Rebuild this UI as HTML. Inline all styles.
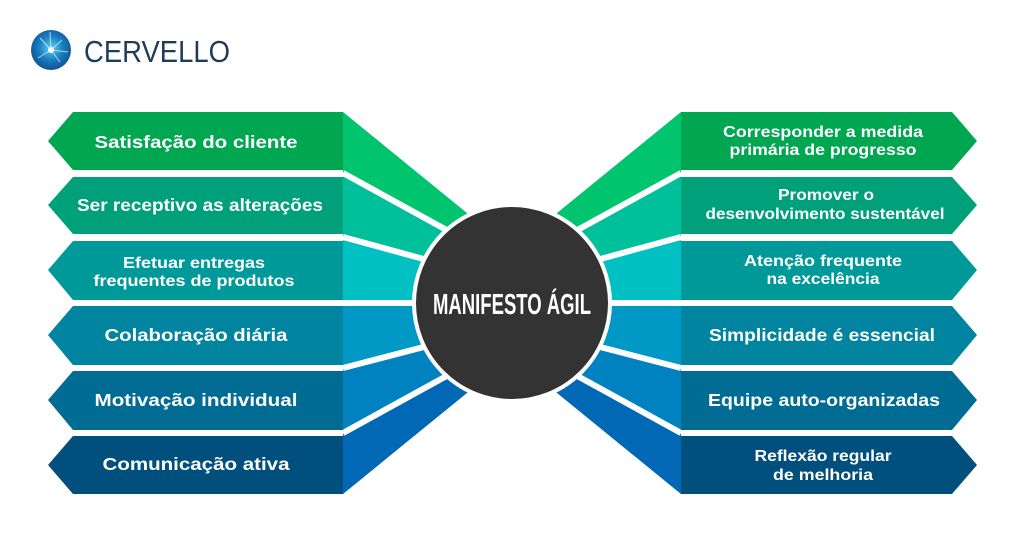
<!DOCTYPE html>
<html><head><meta charset="utf-8"><style>
html,body{margin:0;padding:0;background:#fff;}
svg{display:block;}
text{font-family:"Liberation Sans",sans-serif;}
</style></head><body>
<svg width="1024" height="548" viewBox="0 0 1024 548" xmlns="http://www.w3.org/2000/svg">
<defs>
<radialGradient id="lg" cx="0.5" cy="0.45" r="0.6"><stop offset="0" stop-color="#5fd0f0"/><stop offset="0.5" stop-color="#1a7fc0"/><stop offset="1" stop-color="#0d4a8a"/></radialGradient>
</defs>
<circle cx="51" cy="50" r="20" fill="url(#lg)"/>
<g stroke="#cdefff" stroke-width="1" fill="none" opacity="0.8">
<path d="M51 50 L40 38 M51 50 L62 40 M51 50 L38 58 M51 50 L60 62 M51 50 L50 32 M51 50 L68 52"/>
</g>
<circle cx="51" cy="50" r="3" fill="#fff"/>
<text x="84" y="62" font-size="31" fill="#1d3b5a" textLength="146" lengthAdjust="spacingAndGlyphs">CERVELLO</text>

<polygon points="343,112 343,173 480,248.4 480,223.6" fill="#00c46e"/>
<polygon points="343,173 343,237 480,274.4 480,248.4" fill="#00c09c"/>
<polygon points="343,237 343,303 480,303 480,274.4" fill="#00c0c4"/>
<polygon points="343,303 343,368 480,332.4 480,303" fill="#0099c6"/>
<polygon points="343,368 343,433 480,357.6 480,332.4" fill="#0082c0"/>
<polygon points="343,433 343,494 480,382.4 480,357.6" fill="#0068b4"/>
<polygon points="681,112 681,173 544,248.4 544,223.6" fill="#00c46e"/>
<polygon points="681,173 681,237 544,274.4 544,248.4" fill="#00c09c"/>
<polygon points="681,237 681,303 544,303 544,274.4" fill="#00c0c4"/>
<polygon points="681,303 681,368 544,332.4 544,303" fill="#0099c6"/>
<polygon points="681,368 681,433 544,357.6 544,332.4" fill="#0082c0"/>
<polygon points="681,433 681,494 544,382.4 544,357.6" fill="#0068b4"/>
<g stroke="#fff" stroke-width="6">
<line x1="343" y1="173" x2="480" y2="248.4"/>
<line x1="343" y1="237" x2="480" y2="274.4"/>
<line x1="343" y1="303" x2="480" y2="303"/>
<line x1="343" y1="368" x2="480" y2="332.4"/>
<line x1="343" y1="433" x2="480" y2="357.6"/>
<line x1="681" y1="173" x2="544" y2="248.4"/>
<line x1="681" y1="237" x2="544" y2="274.4"/>
<line x1="681" y1="303" x2="544" y2="303"/>
<line x1="681" y1="368" x2="544" y2="332.4"/>
<line x1="681" y1="433" x2="544" y2="357.6"/>
</g>

<polygon points="73,112 343,112 343,170 73,170 48,141" fill="#00a650"/>
<polygon points="73,177 343,177 343,234 73,234 48,205" fill="#00a07a"/>
<polygon points="73,241 343,241 343,300 73,300 48,270" fill="#00999a"/>
<polygon points="73,306 343,306 343,365 73,365 48,335" fill="#00849f"/>
<polygon points="73,371 343,371 343,430 73,430 48,400" fill="#006b93"/>
<polygon points="73,436 343,436 343,494 73,494 48,465" fill="#004f7c"/>
<polygon points="681,112 952,112 977,141 952,170 681,170" fill="#00a650"/>
<polygon points="681,177 952,177 977,205 952,234 681,234" fill="#00a07a"/>
<polygon points="681,241 952,241 977,270 952,300 681,300" fill="#00999a"/>
<polygon points="681,306 952,306 977,335 952,365 681,365" fill="#00849f"/>
<polygon points="681,371 952,371 977,400 952,430 681,430" fill="#006b93"/>
<polygon points="681,436 952,436 977,465 952,494 681,494" fill="#004f7c"/>

<circle cx="512" cy="303" r="98" fill="#333333" stroke="#fff" stroke-width="4"/>
<text x="512" y="314" font-size="29" font-weight="bold" fill="#fff" text-anchor="middle" textLength="158" lengthAdjust="spacingAndGlyphs">MANIFESTO ÁGIL</text>

<g fill="#fff" font-size="17.5" font-weight="bold" text-anchor="middle" lengthAdjust="spacingAndGlyphs">
<text x="196" y="148" textLength="203" lengthAdjust="spacingAndGlyphs">Satisfação do cliente</text>
<text x="200" y="211" textLength="246" lengthAdjust="spacingAndGlyphs">Ser receptivo as alterações</text>
<text x="194" y="268" font-size="16" textLength="142" lengthAdjust="spacingAndGlyphs">Efetuar entregas</text>
<text x="194" y="286" font-size="16" textLength="201" lengthAdjust="spacingAndGlyphs">frequentes de produtos</text>
<text x="196" y="341" textLength="183" lengthAdjust="spacingAndGlyphs">Colaboração diária</text>
<text x="196" y="406" textLength="203" lengthAdjust="spacingAndGlyphs">Motivação individual</text>
<text x="196" y="470" textLength="187" lengthAdjust="spacingAndGlyphs">Comunicação ativa</text>

<text x="823" y="137" font-size="16" textLength="200" lengthAdjust="spacingAndGlyphs">Corresponder a medida</text>
<text x="823" y="155" font-size="16" textLength="187" lengthAdjust="spacingAndGlyphs">primária de progresso</text>
<text x="826" y="200" font-size="16" textLength="96" lengthAdjust="spacingAndGlyphs">Promover o</text>
<text x="825" y="219" font-size="16" textLength="239" lengthAdjust="spacingAndGlyphs">desenvolvimento sustentável</text>
<text x="823" y="266" font-size="16" textLength="158" lengthAdjust="spacingAndGlyphs">Atenção frequente</text>
<text x="823" y="284" font-size="16" textLength="113" lengthAdjust="spacingAndGlyphs">na excelência</text>
<text x="822" y="341" textLength="226" lengthAdjust="spacingAndGlyphs">Simplicidade é essencial</text>
<text x="824" y="406" textLength="232" lengthAdjust="spacingAndGlyphs">Equipe auto-organizadas</text>
<text x="823" y="461" font-size="16" textLength="137" lengthAdjust="spacingAndGlyphs">Reflexão regular</text>
<text x="823" y="480" font-size="16" textLength="100" lengthAdjust="spacingAndGlyphs">de melhoria</text>
</g>
</svg>
</body></html>
